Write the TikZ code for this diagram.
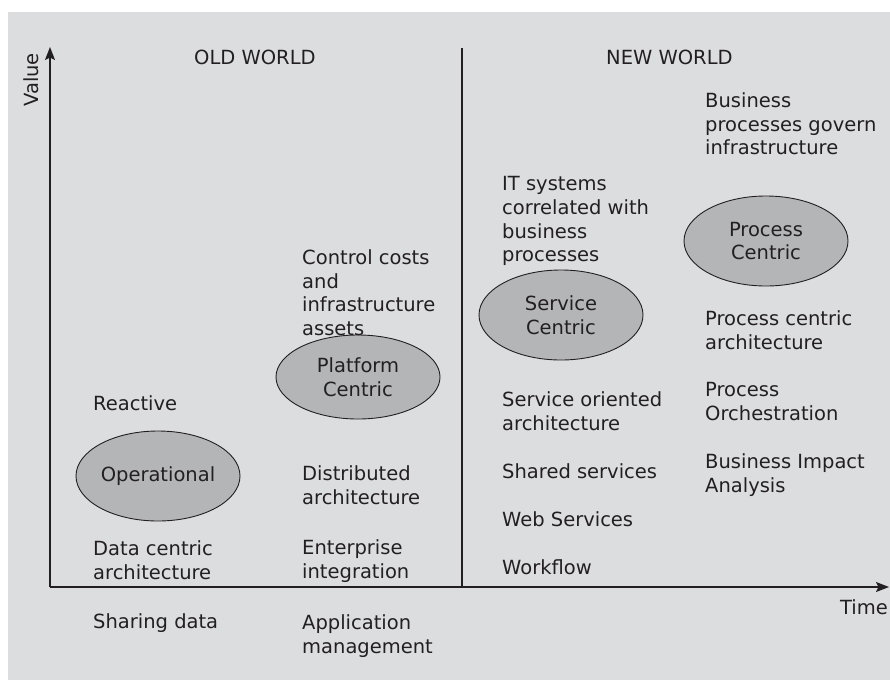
\documentclass[tikz,border=0pt]{standalone}
\usepackage{fontspec}
\setmainfont{DejaVu Sans}
\usetikzlibrary{arrows.meta,shapes.geometric}

\definecolor{panel}{HTML}{DCDDDF}
\definecolor{blob}{HTML}{B4B5B7}
\definecolor{ink}{HTML}{231F20}

\begin{document}
\begin{tikzpicture}[x=1pt,y=-1pt,
    plain/.style={inner sep=0pt,text=ink,font=\fontsize{19.5}{23.7}\selectfont},
    % labels are placed by the baseline of their first line
    txt/.style={plain,anchor=north west,yshift=14.6pt,align=left},
    stage/.style={plain,ellipse,draw=ink,line width=0.9pt,fill=blob,
      minimum width=164pt,minimum height=90pt,align=center},
    axis/.style={draw=ink,line width=1.5pt,
      -{Stealth[length=13pt,width=10pt,inset=2.5pt]}}]
  \useasboundingbox (0,0) rectangle (890,680);
  \fill[white] (0,0) rectangle (890,680);
  \fill[panel] (8,12) rectangle (890,680);

  % axes and the split between the two worlds
  \coordinate (o) at (50,587);
  \coordinate (vend) at (50,47);
  \coordinate (tend) at (889,587);
  \coordinate (dtop) at (462,48);
  \coordinate (dbot) at (462,587);
  \draw[axis] (o) -- (vend);
  \draw[axis] (o) -- (tend);
  \draw[ink,line width=1.3pt] (dtop) -- (dbot);
  \node[plain,rotate=90] (value) at (31,80) {Value};
  \node[plain,anchor=base east] (time) at (888,614) {Time};

  \node[txt] (old) at (194,64) {OLD WORLD};
  \node[txt] (new) at (606,64) {NEW WORLD};

  % the four stages
  \node[stage] (oper) at (158,476) {Operational};
  \node[stage,minimum height=84pt] (plat) at (358,377) {Platform\\Centric};
  \node[stage] (serv) at (561,315) {Service\\Centric};
  \node[stage] (proc) at (766,241) {Process\\Centric};

  % operational
  \node[txt] (react) at (93,410) {Reactive};
  \node[txt] (datac) at (93,555) {Data centric\\architecture};
  \node[txt] (share) at (93,628) {Sharing data};

  % platform centric
  \node[txt] (costs) at (302,264) {Control costs\\and\\infrastructure\\assets};
  \node[txt] (distr) at (302,480) {Distributed\\architecture};
  \node[txt] (integ) at (302,554) {Enterprise\\integration};
  \node[txt] (appm) at (302,629) {Application\\management};

  % service centric
  \node[txt] (itsys) at (502,191) {IT systems\\correlated with\\business\\processes};
  \node[txt] (soa) at (502,406) {Service oriented\\architecture};
  \node[txt] (shsv) at (502,478) {Shared services};
  \node[txt] (websv) at (502,526) {Web Services};
  \node[txt] (wflow) at (502,574) {Workflow};

  % process centric
  \node[txt] (govern) at (705,107) {Business\\processes govern\\infrastructure};
  \node[txt] (pca) at (705,325) {Process centric\\architecture};
  \node[txt] (orch) at (705,397) {Process\\Orchestration};
  \node[txt] (bia) at (705,468) {Business Impact\\Analysis};
\end{tikzpicture}
\end{document}
